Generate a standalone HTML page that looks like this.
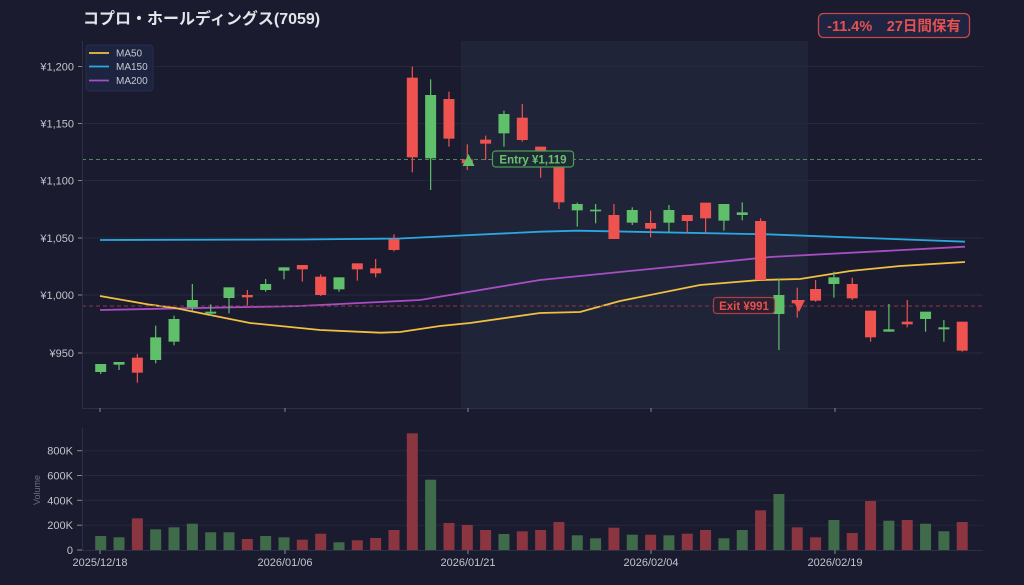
<!DOCTYPE html>
<html><head><meta charset="utf-8"><style>
html,body{margin:0;padding:0;background:#1a1b2e;}
svg{display:block;font-family:"Liberation Sans","Noto Sans CJK JP",sans-serif;}
</style></head><body>
<svg id="s" width="1024" height="585" viewBox="0 0 1024 585" xmlns="http://www.w3.org/2000/svg">
<rect width="1024" height="585" fill="#1a1b2e"/>
<rect x="461" y="41" width="347" height="367" fill="#1f2439"/>
<g id="grid" stroke="#25283d" stroke-width="1"></g>
<g id="ma" fill="none" stroke-width="1.8">
<polyline stroke="#2aa8e0" points="100,240 300,239.5 400,238.5 461,235.5 540,231.7 577,230.7 767,234.3 965,241.7"/>
<polyline stroke="#a64fc2" points="100,310 300,306 420,300 540,280 660,268 770,257 965,246.7"/>
<polyline stroke="#f0c040" points="100,296 150,304.7 175,308 250,323 320,330 380,332.7 400,332 440,326 470,323 540,313 580,312 620,301 700,285 760,280 800,279 850,271 900,266 965,262"/>
</g>
<line x1="82" y1="159.5" x2="983" y2="159.5" stroke="#4f8a55" stroke-dasharray="4,3" stroke-width="1"/>
<line x1="82" y1="306" x2="983" y2="306" stroke="#8a3a45" stroke-dasharray="4,3" stroke-width="1"/>
<g id="c"></g>
<g id="v"></g>
<polygon points="468.5,154 462.5,166 474.5,166" fill="#5fbf6a"/>
<polygon points="793,300 805,300 799,312" fill="#ef5350"/>
<rect x="492.5" y="151" width="81" height="16" rx="3" fill="#1d2a33" stroke="#4f9a58" stroke-width="1.2"/>
<text x="533" y="163.5" text-anchor="middle" font-size="11.5" font-weight="bold" fill="#6cc070">Entry ¥1,119</text>
<rect x="713.5" y="297.5" width="61" height="16" rx="3" fill="#2a2030" stroke="#a8404a" stroke-width="1.2"/>
<text x="744" y="310" text-anchor="middle" font-size="11.5" font-weight="bold" fill="#e85050">Exit ¥991</text>
<line x1="82.5" y1="41" x2="82.5" y2="408" stroke="#2c2f48"/>
<line x1="82" y1="408.5" x2="983" y2="408.5" stroke="#2c2f48"/>
<line x1="82.5" y1="428" x2="82.5" y2="550" stroke="#2c2f48"/>
<line x1="82" y1="550.5" x2="983" y2="550.5" stroke="#2c2f48"/>
<g id="lab" font-size="11" fill="#c4c4cc"></g>
<rect x="86" y="45" width="67" height="46" rx="3" fill="#1d2440" stroke="#262c4a"/>
<line x1="89" y1="53" x2="109" y2="53" stroke="#f0c040" stroke-width="1.8"/>
<line x1="89" y1="66.5" x2="109" y2="66.5" stroke="#2aa8e0" stroke-width="1.8"/>
<line x1="89" y1="80.5" x2="109" y2="80.5" stroke="#a64fc2" stroke-width="1.8"/>
<g font-size="10" fill="#c8c8d0"><text x="116" y="56.5">MA50</text><text x="116" y="70">MA150</text><text x="116" y="84">MA200</text></g>
<text x="83" y="24" font-size="16" font-weight="bold" fill="#e4e4ea">コプロ・ホールディングス(7059)</text>
<rect x="818.5" y="13.5" width="151" height="24" rx="5" fill="#1e2442" stroke="#c84848" stroke-width="1.3"/>
<text x="894" y="31" text-anchor="middle" font-size="14.5" font-weight="bold" fill="#e85050">-11.4%　27日間保有</text>
<text transform="translate(40,490) rotate(-90)" text-anchor="middle" font-size="9" fill="#6a6c80">Volume</text>
</svg>
<script>
const NS="http://www.w3.org/2000/svg";
function el(p,t,a){const e=document.createElementNS(NS,t);for(const k in a)e.setAttribute(k,a[k]);if(a.text){e.textContent=a.text;e.removeAttribute('text');}document.getElementById(p).appendChild(e);return e;}
// grid + y labels
const yt=[["¥1,200",66.5],["¥1,150",123.5],["¥1,100",180.5],["¥1,050",238],["¥1,000",295],["¥950",353]];
yt.forEach(([t,y])=>{el('grid','line',{x1:83,x2:983,y1:y,y2:y});el('lab','text',{x:74,y:y+4,'text-anchor':'end',text:t});el('lab','line',{x1:78,x2:82,y1:y,y2:y,stroke:'#888'});});
const vt=[["800K",450.7],["600K",475.5],["400K",500.3],["200K",525.2],["0",550]];
vt.forEach(([t,y])=>{if(t!="0")el('grid','line',{x1:83,x2:983,y1:y,y2:y});el('lab','text',{x:73,y:y+4,'text-anchor':'end',text:t});el('lab','line',{x1:77,x2:82,y1:y,y2:y,stroke:'#888'});});
[["2025/12/18",100],["2026/01/06",285],["2026/01/21",468],["2026/02/04",651],["2026/02/19",835]].forEach(([t,x])=>{el('lab','text',{x:x,y:566,'text-anchor':'middle',text:t});el('lab','line',{x1:x,x2:x,y1:408,y2:412,stroke:'#888'});el('lab','line',{x1:x,x2:x,y1:550,y2:554,stroke:'#888'});});
// candles: color, bodyTop, bodyBot, wickTop, wickBot (zoom coords), vol top y
const C=[
['g',972,996,972,1002,536],['g',966,974,966,990,537.3],['r',953,998,942,1028,518.3],['g',892,960,857,970,529.3],
['g',837,905,827,916,527.3],['g',780,802,732,812,523.7],['g',815,821,793,828,532.3],['g',742,774,742,820,532.3],
['r',765,772,750,797,539],['g',732,750,717,755,536],['g',682,692,682,718,537.3],['r',675,688,675,725,539.7],
['r',710,765,703,768,533.7],['g',712,748,712,755,542.3],['r',670,688,670,722,540.3],['r',685,700,657,712,538],
['r',598,630,583,634,530],['r',113,352,80,397,433.3],['g',165,355,118,450,479.7],['r',177,296,155,320,523],
['r',358,370,313,390,525],['r',299,311,287,360,530],['g',222,280,212,320,534],['r',233,300,192,305,531.3],
['r',320,335,320,413,530],['r',375,487,375,507,522],['g',492,511,488,560,535.3],['g',509,514,492,550,538.3],
['r',525,597,492,597,527.7],['g',510,548,502,555,534.7],['r',549,566,512,592,534.7],['g',510,548,495,575,535.3],
['r',525,543,525,578,533.7],['r',488,535,488,578,530],['g',492,542,492,572,538.3],['g',517,525,487,541,530],
['r',543,720,535,720,510.3],['g',765,822,715,930,494],['r',780,790,743,833,527.3],['r',747,782,720,785,537.3],
['g',712,732,695,773,520],['r',732,775,713,780,533],['r',812,892,812,905,501],['g',868,875,792,875,520.7],
['r',845,853,780,862,520],['g',815,837,815,875,523.7],['g',862,868,840,905,531.3],['r',845,932,845,935,522]];
C.forEach((d,i)=>{const x=100.7+i*18.33;const col=d[0]=='g'?'#5fbf6a':'#ef5350';const vc=d[0]=='g'?'#3f6b4a':'#8a3540';
const z=v=>40+v/3;
el('c','line',{x1:x,x2:x,y1:z(d[3]),y2:z(d[4]),stroke:col,'stroke-width':1.2});
const t=z(d[1]),b=z(d[2]);el('c','rect',{x:x-5.5,y:t,width:11,height:Math.max(b-t,1.5),fill:col});
el('v','rect',{x:x-5.5,y:d[5],width:11,height:550-d[5],fill:vc});});
</script>
</body></html>
